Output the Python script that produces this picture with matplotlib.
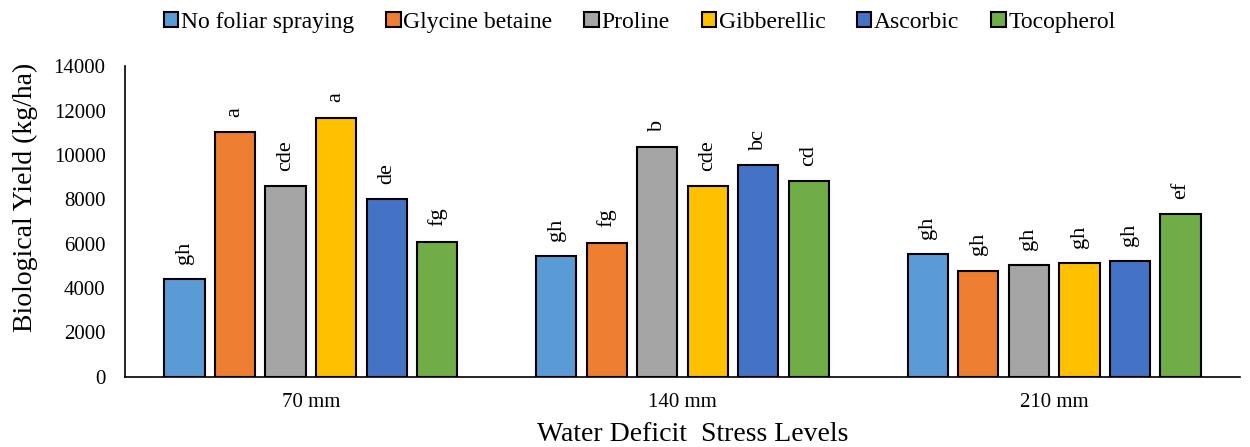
import matplotlib.pyplot as plt
import numpy as np

plt.rcParams['font.family'] = ['Liberation Serif', 'DejaVu Serif']

niveles = ['70 mm', '140 mm', '210 mm']
tratamientos = ['No foliar spraying', 'Glycine betaine', 'Proline',
                'Gibberellic', 'Ascorbic', 'Tocopherol']
colores = ['#5B9BD5', '#ED7D31', '#A5A5A5', '#FFC000', '#4472C4', '#70AD47']

rendimiento = [
    [4400, 5450, 5520],    # No foliar spraying
    [11030, 6050, 4790],   # Glycine betaine
    [8600, 10370, 5030],   # Proline
    [11680, 8600, 5130],   # Gibberellic
    [8010, 9530, 5220],    # Ascorbic
    [6090, 8810, 7320],    # Tocopherol
]
letras = [
    ['gh', 'gh', 'gh'],
    ['a', 'fg', 'gh'],
    ['cde', 'b', 'gh'],
    ['a', 'cde', 'gh'],
    ['de', 'bc', 'gh'],
    ['fg', 'cd', 'ef'],
]

fig = plt.figure(figsize=(12.5, 4.47), dpi=100)
ax = fig.add_axes([0.1, 0.157, 0.892, 0.695])

x = np.arange(len(niveles))
paso = 0.136
ancho = 0.108
for i, nombre in enumerate(tratamientos):
    pos = x + (i - 2.5) * paso
    barras = ax.bar(pos, rendimiento[i], width=ancho, color=colores[i],
                    edgecolor='black', linewidth=1.5, label=nombre)
    for b, letra in zip(barras, letras[i]):
        ax.annotate(letra, (b.get_x() + b.get_width() / 2, b.get_height()),
                    xytext=(0, 11), textcoords='offset points',
                    ha='center', va='bottom', rotation=90, fontsize=16)

ax.set_xlim(-0.5, 2.5)
ax.set_ylim(0, 14000)
ax.set_yticks(range(0, 14001, 2000))
ax.set_xticks(x)
ax.set_xticklabels(niveles)
ax.tick_params(length=0, labelsize=15)
ax.tick_params(axis='y', pad=14)
ax.tick_params(axis='x', pad=12)
for lado in ['top', 'right']:
    ax.spines[lado].set_visible(False)
ax.spines['left'].set_linewidth(1.2)
ax.spines['bottom'].set_linewidth(1.2)

ax.set_ylabel('Biological Yield (kg/ha)', fontsize=20)
ax.yaxis.set_label_coords(-0.078, 0.579)
ax.set_xlabel('Water Deficit  Stress Levels', fontsize=20)
ax.xaxis.set_label_coords(0.509, -0.145)

fig.legend(loc='upper center', bbox_to_anchor=(0.512, 1.02), ncol=6,
           frameon=False, fontsize=17, handlelength=0.6, handleheight=0.6,
           handletextpad=0.12, columnspacing=1.35)

plt.savefig('out.png')
